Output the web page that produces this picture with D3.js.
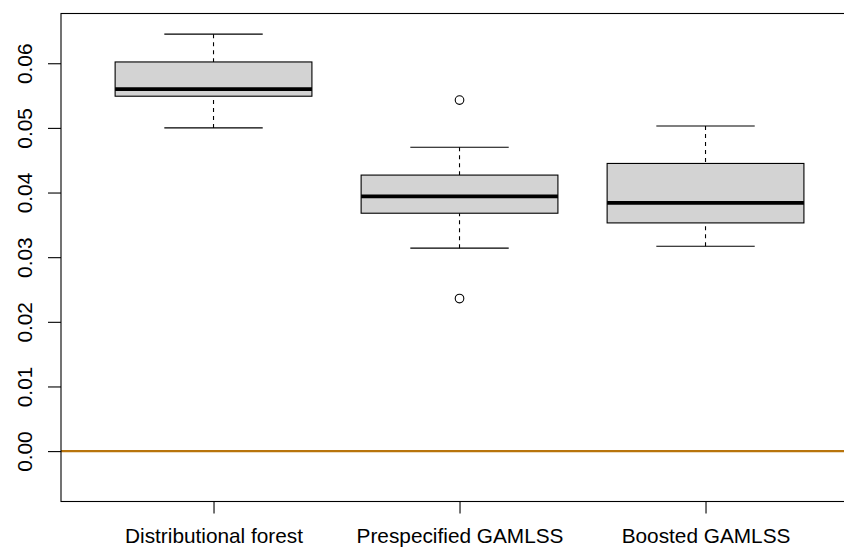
<!DOCTYPE html>
<html>
<head>
<meta charset="utf-8">
<script src="https://cdn.jsdelivr.net/npm/d3@7"></script>
<style>
  html, body { margin: 0; padding: 0; background: #fff; }
  svg { display: block; }
  text { font-family: "Liberation Sans", Arial, Helvetica, sans-serif; fill: #000; }
</style>
</head>
<body>
<svg id="chart" width="844" height="548"></svg>
<script>
// Box-plot summaries per method
const methods   = ["Distributional forest", "Prespecified GAMLSS", "Boosted GAMLSS"];
const lowerWhisk = [0.0500, 0.0314, 0.0317];
const lowerQuart = [0.0549, 0.0368, 0.0353];
const medians    = [0.0560, 0.0394, 0.0384];
const upperQuart = [0.0602, 0.0427, 0.0445];
const upperWhisk = [0.0645, 0.0470, 0.0503];
const outliers   = [[], [0.0543, 0.0236], []];
const yTicks     = [0.00, 0.01, 0.02, 0.03, 0.04, 0.05, 0.06];
const refLine    = 0;
const yLimits    = [-0.0050, 0.0649];

const svg = d3.select("#chart");
const plot = { left: 61, top: 13.5, bottom: 501.5 };
const unitWidth = 246;

// axis limits padded by 4% on each side
const pad = (yLimits[1] - yLimits[0]) * 0.04;
const y = d3.scaleLinear()
  .domain([yLimits[0] - pad, yLimits[1] + pad])
  .range([plot.bottom, plot.top]);

const xPad = methods.length * 0.04;
const xDomain = [0.5 - xPad, methods.length + 0.5 + xPad];
const x = d3.scaleLinear()
  .domain(xDomain)
  .range([plot.left, plot.left + (xDomain[1] - xDomain[0]) * unitWidth]);

const boxes = methods.map((m, i) => ({
  name: m, pos: i + 1,
  lo: lowerWhisk[i], q1: lowerQuart[i], med: medians[i],
  q3: upperQuart[i], hi: upperWhisk[i], out: outliers[i]
}));

// reference line at zero
svg.append("line")
  .attr("x1", x(xDomain[0])).attr("x2", x(xDomain[1]))
  .attr("y1", y(refLine)).attr("y2", y(refLine))
  .attr("stroke", "#b8740c").attr("stroke-width", 2.2);

const g = svg.append("g");
boxes.forEach(b => {
  const cx = x(b.pos);
  const half = x(b.pos + 0.4) - cx;
  const cap = x(b.pos + 0.2) - cx;
  // whiskers
  [[b.hi, b.q3], [b.lo, b.q1]].forEach(([w, q]) => {
    g.append("line")
      .attr("x1", cx).attr("x2", cx)
      .attr("y1", y(w)).attr("y2", y(q))
      .attr("stroke", "#000").attr("stroke-width", 1.1)
      .attr("stroke-dasharray", "4,4");
    g.append("line")
      .attr("x1", cx - cap).attr("x2", cx + cap)
      .attr("y1", y(w)).attr("y2", y(w))
      .attr("stroke", "#000").attr("stroke-width", 1.1);
  });
  // box
  g.append("rect")
    .attr("x", cx - half).attr("width", 2 * half)
    .attr("y", y(b.q3)).attr("height", y(b.q1) - y(b.q3))
    .attr("fill", "#d3d3d3").attr("stroke", "#000").attr("stroke-width", 1.1);
  // median
  g.append("line")
    .attr("x1", cx - half).attr("x2", cx + half)
    .attr("y1", y(b.med)).attr("y2", y(b.med))
    .attr("stroke", "#000").attr("stroke-width", 3.8);
  // outliers
  b.out.forEach(v => {
    g.append("circle")
      .attr("cx", cx).attr("cy", y(v)).attr("r", 4.3)
      .attr("fill", "none").attr("stroke", "#000").attr("stroke-width", 1.1);
  });
});

// plot frame
svg.append("rect")
  .attr("x", plot.left).attr("y", plot.top)
  .attr("width", x(xDomain[1]) - plot.left).attr("height", plot.bottom - plot.top)
  .attr("fill", "none").attr("stroke", "#000").attr("stroke-width", 1.1);

// y axis
const yAxis = svg.append("g")
  .attr("transform", `translate(${plot.left},0)`)
  .call(d3.axisLeft(y).tickValues(yTicks).tickSize(13).tickFormat(d3.format(".2f")));
yAxis.select(".domain").remove();
yAxis.selectAll(".tick line").attr("stroke", "#000").attr("stroke-width", 1.1);
yAxis.selectAll(".tick text")
  .attr("x", null).attr("dy", null)
  .attr("transform", "translate(-29.5,0) rotate(-90)")
  .attr("text-anchor", "middle")
  .style("font-size", "20.8px");

// x axis
const xAxis = svg.append("g")
  .attr("transform", `translate(0,${plot.bottom})`)
  .call(d3.axisBottom(x).tickValues(boxes.map(b => b.pos)).tickSize(12)
    .tickFormat((d, i) => methods[i]));
xAxis.select(".domain").remove();
xAxis.selectAll(".tick line").attr("stroke", "#000").attr("stroke-width", 1.1);
xAxis.selectAll(".tick text")
  .attr("y", 41.5).attr("dy", null)
  .style("font-size", "20.8px");
</script>
</body>
</html>
